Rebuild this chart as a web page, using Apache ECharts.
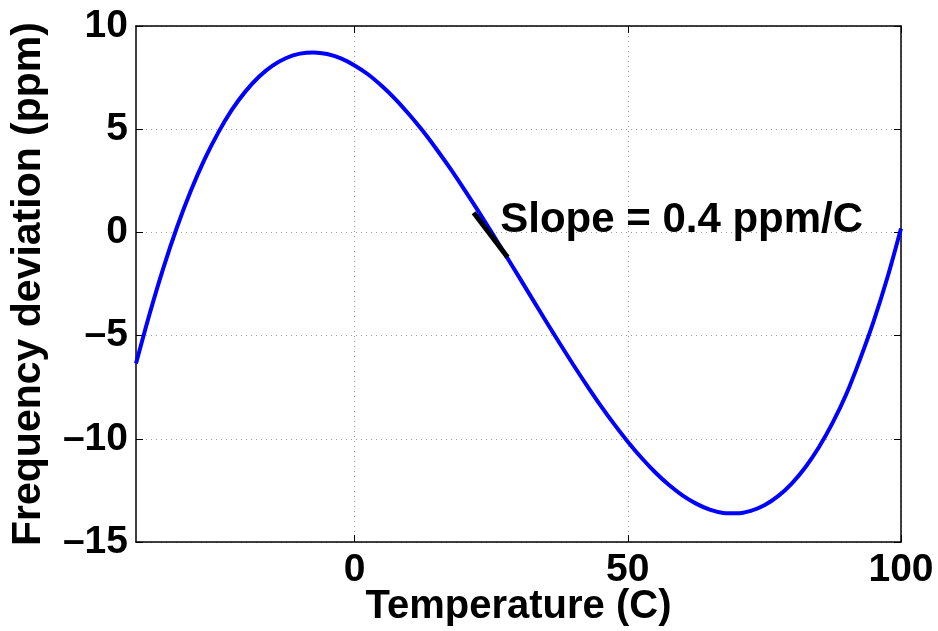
<!DOCTYPE html>
<html>
<head>
<meta charset="utf-8">
<script src="https://cdn.jsdelivr.net/npm/echarts@6/dist/echarts.min.js"></script>
<style>
html,body{margin:0;padding:0;background:#fff;}
#chart{width:938px;height:631px;}
</style>
</head>
<body>
<div id="chart"></div>
<script>
// Temperature (C)
const temps = [-40,-37.5,-35,-32.5,-30,-27.5,-25,-22.5,-20,-17.5,-15,-12.5,-10,-7.5,-5,-2.5,0,2.5,5,7.5,10,12.5,15,17.5,20,22.5,25,27.5,30,32.5,35,37.5,40,42.5,45,47.5,50,52.5,55,57.5,60,62.5,65,67.5,70,72.5,75,77.5,80,82.5,85,87.5,90,92.5,95,97.5,100];
// Frequency deviation (ppm)
const deviation = [-6.35,-3.94,-1.73,0.25,1.99,3.51,4.81,5.92,6.82,7.54,8.08,8.45,8.66,8.72,8.64,8.43,8.09,7.65,7.09,6.45,5.71,4.91,4.03,3.10,2.11,1.09,0.04,-1.04,-2.12,-3.21,-4.29,-5.36,-6.40,-7.41,-8.38,-9.29,-10.14,-10.92,-11.62,-12.23,-12.74,-13.14,-13.43,-13.59,-13.61,-13.49,-13.22,-12.78,-12.17,-11.38,-10.40,-9.22,-7.83,-6.15,-4.30,-2.20,0.19];
// Tick labels
const xTicks = [0, 50, 100];
const yTicks = [-15, -10, -5, 0, 5, 10];
// Tangent segment at the annotation
const slopeSegX = [21.8, 28.0];
const slopeSegY = [0.95, -1.2];
const noteText = 'Slope = 0.4 ppm/C';
const notePos = [26.65, 0.6];

const FONT = 'Liberation Sans';
const gridLine = {show: true, lineStyle: {color: '#9a9a9a', width: 1, type: [1, 4]}};
const tickStyle = {show: true, inside: true, length: 7, lineStyle: {color: '#000', width: 1}};
const lineStyleBlack = {show: true, onZero: false, lineStyle: {color: '#000', width: 1.5}};
const fmt = v => String(v).replace('-', '\u2013');

const chart = echarts.init(document.getElementById('chart'), null, {renderer: 'canvas'});
chart.setOption({
  backgroundColor: '#fff',
  animation: false,
  grid: {left: 136, right: 37, top: 26, bottom: 89, containLabel: false, outerBoundsMode: 'none', show: false},
  xAxis: [{
    type: 'value', min: -40, max: 100, position: 'bottom',
    axisLine: lineStyleBlack,
    axisTick: Object.assign({}, tickStyle, {customValues: xTicks}),
    axisLabel: {customValues: xTicks, formatter: fmt, margin: 9, color: '#000', fontFamily: FONT, fontWeight: 'bold', fontSize: 39},
    splitLine: Object.assign({}, gridLine, {customValues: xTicks}),
    name: 'Temperature (C)', nameLocation: 'middle', nameGap: 45, nameMoveOverlap: false,
    nameTextStyle: {color: '#000', fontFamily: FONT, fontWeight: 'bold', fontSize: 40}
  }, {
    type: 'value', min: -40, max: 100, position: 'top',
    axisLine: lineStyleBlack,
    axisTick: Object.assign({}, tickStyle, {customValues: xTicks}),
    axisLabel: {show: false, customValues: xTicks},
    splitLine: {show: false}
  }],
  yAxis: [{
    type: 'value', min: yTicks[0], max: yTicks[yTicks.length - 1], interval: 5, position: 'left',
    axisLine: lineStyleBlack,
    axisTick: tickStyle,
    axisLabel: {formatter: fmt, margin: 8, color: '#000', fontFamily: FONT, fontWeight: 'bold', fontSize: 39},
    splitLine: gridLine,
    name: 'Frequency deviation (ppm)', nameLocation: 'middle', nameGap: 87, nameMoveOverlap: false,
    nameTextStyle: {color: '#000', fontFamily: FONT, fontWeight: 'bold', fontSize: 41}
  }, {
    type: 'value', min: yTicks[0], max: yTicks[yTicks.length - 1], interval: 5, position: 'right',
    axisLine: lineStyleBlack,
    axisTick: tickStyle,
    axisLabel: {show: false},
    splitLine: {show: false}
  }],
  series: [{
    type: 'line', xAxisIndex: 0, yAxisIndex: 0,
    data: temps.map((t, i) => [t, deviation[i]]),
    smooth: 0.3, showSymbol: false, symbol: 'none',
    lineStyle: {color: '#0000ff', width: 4}, z: 3
  }, {
    type: 'line', xAxisIndex: 0, yAxisIndex: 0,
    data: slopeSegX.map((x, i) => [x, slopeSegY[i]]),
    showSymbol: false, symbol: 'none',
    lineStyle: {color: '#000', width: 5, cap: 'butt'}, z: 4
  }, {
    type: 'scatter', xAxisIndex: 0, yAxisIndex: 0,
    data: [notePos], symbolSize: 0,
    itemStyle: {opacity: 1},
    label: {show: true, position: 'right', distance: 0, formatter: noteText, opacity: 1,
      color: '#000', fontFamily: FONT, fontWeight: 'bold', fontSize: 42},
    z: 5
  }]
});
</script>
</body>
</html>
